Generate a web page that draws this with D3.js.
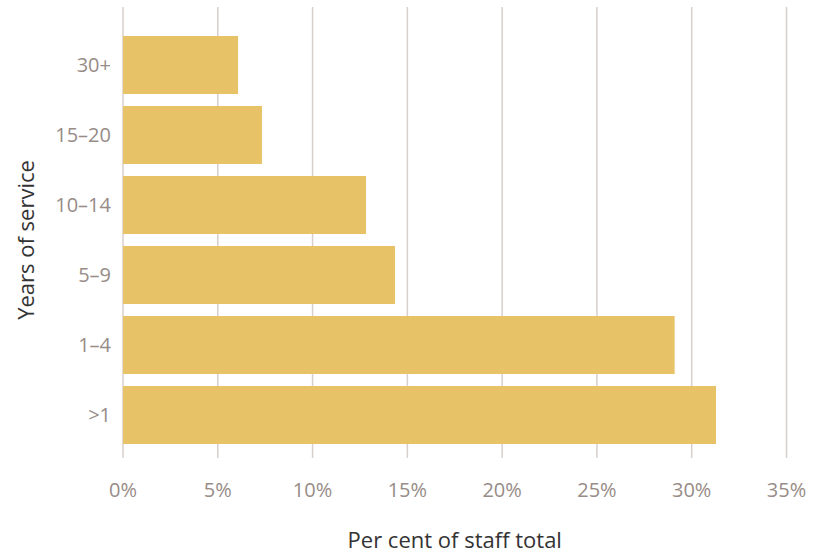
<!DOCTYPE html>
<html>
<head>
<meta charset="utf-8">
<script src="https://cdn.jsdelivr.net/npm/d3@7"></script>
<style>
  body { margin: 0; background: #fff; }
  svg { font-family: "Open Sans", sans-serif; }
</style>
</head>
<body>
<div id="chart"></div>
<script>
// years of service, top to bottom
var categories = ["30+", "15\u201320", "10\u201314", "5\u20139", "1\u20134", ">1"];
var values = [6.07, 7.33, 12.82, 14.35, 29.1, 31.28];
var xTicks = [0, 5, 10, 15, 20, 25, 30, 35];

var width = 818, height = 554;
var plotLeft = 123, plotRight = 786.5, plotTop = 30, plotBottom = 450;

var svg = d3.select("#chart").append("svg")
  .attr("width", width).attr("height", height);

var x = d3.scaleLinear().domain([0, 35]).range([plotLeft, plotRight]);
var y = d3.scaleBand().domain(categories).range([plotTop, plotBottom])
  .paddingInner(12 / 70).paddingOuter(6 / 70);

// gridlines
svg.append("g").selectAll("line")
  .data(xTicks)
  .enter().append("line")
  .attr("x1", function(d) { return x(d); })
  .attr("x2", function(d) { return x(d); })
  .attr("y1", 7)
  .attr("y2", 458)
  .attr("stroke", "#d8cfcb")
  .attr("stroke-width", 1.5);

// bars
svg.append("g").selectAll("rect")
  .data(categories)
  .enter().append("rect")
  .attr("x", x(0))
  .attr("y", function(d) { return y(d); })
  .attr("width", function(d, i) { return x(values[i]) - x(0); })
  .attr("height", y.bandwidth())
  .attr("fill", "#e8c267");

// x tick labels
svg.append("g").selectAll("text")
  .data(xTicks)
  .enter().append("text")
  .attr("x", function(d) { return x(d); })
  .attr("y", 497)
  .attr("text-anchor", "middle")
  .attr("fill", "#978c87")
  .style("font-size", "20px")
  .text(function(d) { return d + "%"; });

// y labels
svg.append("g").selectAll("text")
  .data(categories)
  .enter().append("text")
  .attr("x", 111)
  .attr("y", function(d) { return y(d) + y.bandwidth() / 2; })
  .attr("dy", "0.35em")
  .attr("text-anchor", "end")
  .attr("fill", "#978c87")
  .style("font-size", "20px")
  .text(function(d) { return d; });

// axis titles
svg.append("text")
  .attr("x", (plotLeft + plotRight) / 2)
  .attr("y", 548)
  .attr("text-anchor", "middle")
  .attr("fill", "#333")
  .style("font-size", "22px")
  .text("Per cent of staff total");

svg.append("text")
  .attr("transform", "translate(34," + ((plotTop + plotBottom) / 2) + ") rotate(-90)")
  .attr("text-anchor", "middle")
  .attr("fill", "#333")
  .style("font-size", "22px")
  .text("Years of service");
</script>
</body>
</html>
